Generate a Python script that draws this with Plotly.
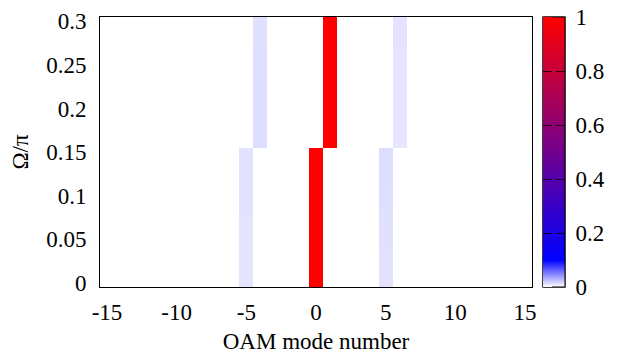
import plotly.graph_objects as go

# OAM mode numbers (x) and Omega/pi sample rows (y)
modes = [-15, -14, -13, -12, -11, -10, -9, -8, -7, -6, -5, -4, -3, -2, -1, 0,
         1, 2, 3, 4, 5, 6, 7, 8, 9, 10, 11, 12, 13, 14, 15]
omega_low = [0.00, 0.01, 0.02, 0.03, 0.04, 0.05, 0.06, 0.07,
             0.08, 0.09, 0.10, 0.11, 0.12, 0.13, 0.14, 0.15]
omega_high = [0.16, 0.17, 0.18, 0.19, 0.20, 0.21, 0.22, 0.23,
              0.24, 0.25, 0.26, 0.27, 0.28, 0.29, 0.30]

# lower block: peak at mode 0, side lobes at -5 and +5
low_peak_mode = 0
low_side_modes = [-5, 5]
low_peak = [1.0] * 16
low_side_left = [0.0105, 0.0105, 0.0106, 0.0106, 0.0106, 0.0107, 0.0107, 0.0107,
                 0.0108, 0.0108, 0.0108, 0.0109, 0.0109, 0.0109, 0.0110, 0.0110]
low_side_right = [0.0110, 0.0112, 0.0113, 0.0115, 0.0116, 0.0118, 0.0119, 0.0121,
                  0.0122, 0.0124, 0.0125, 0.0127, 0.0128, 0.0130, 0.0131, 0.0133]

# upper block: peak at mode 1, side lobes at -4 and +6
high_peak_mode = 1
high_side_modes = [-4, 6]
high_peak = [1.0] * 15
high_side_left = [0.0135, 0.0134, 0.0133, 0.0132, 0.0131, 0.0130, 0.0129, 0.0128,
                  0.0127, 0.0126, 0.0125, 0.0124, 0.0123, 0.0122, 0.0121]
high_side_right = [0.0100, 0.0101, 0.0101, 0.0102, 0.0103, 0.0103, 0.0104, 0.0105,
                   0.0105, 0.0106, 0.0107, 0.0107, 0.0108, 0.0109, 0.0110]

x_ticks = [-15, -10, -5, 0, 5, 10, 15]
x_ticktext = ["-15", "-10", "-5", "0", "5", "10", "15"]
y_ticks = [0, 0.05, 0.1, 0.15, 0.2, 0.25, 0.3]
y_ticktext = ["0", "0.05", "0.1", "0.15", "0.2", "0.25", "0.3"]
cb_ticks = [0, 0.2, 0.4, 0.6, 0.8, 1]
cb_ticktext = ["0", "0.2", "0.4", "0.6", "0.8", "1"]
cb_dash_ticks = [0.2, 0.4, 0.6, 0.8]

omega = omega_low + omega_high
z = []
for i in range(len(omega_low)):
    row = [0.0] * len(modes)
    row[modes.index(low_peak_mode)] = low_peak[i]
    row[modes.index(low_side_modes[0])] = low_side_left[i]
    row[modes.index(low_side_modes[1])] = low_side_right[i]
    z.append(row)
for i in range(len(omega_high)):
    row = [0.0] * len(modes)
    row[modes.index(high_peak_mode)] = high_peak[i]
    row[modes.index(high_side_modes[0])] = high_side_left[i]
    row[modes.index(high_side_modes[1])] = high_side_right[i]
    z.append(row)

cscale = [[0, "#ffffff"], [0.1, "#0000ff"], [1, "#ff0000"]]
FONT = "Liberation Serif"
FS = 23
CB_X = 1.0245

fig = go.Figure()
# main heatmap; its colour bar carries the tick labels
fig.add_trace(go.Heatmap(
    x=modes, y=omega, z=z, zmin=0, zmax=1, colorscale=cscale,
    colorbar=dict(
        x=CB_X, xanchor="left", xpad=0, y=0.5, yanchor="middle", ypad=0,
        len=1, lenmode="fraction", thickness=22,
        outlinecolor="black", outlinewidth=1,
        tickvals=cb_ticks, ticktext=cb_ticktext,
        ticks="outside", ticklen=6, tickcolor="rgba(0,0,0,0)",
        ticklabeloverflow="allow",
        tickfont=dict(family=FONT, size=FS, color="black"),
    ),
    hoverinfo="skip",
))
# right-hand dashes of the colour bar ticks
fig.add_trace(go.Scatter(
    x=[None, None], y=[None, None], mode="markers",
    marker=dict(color=[0, 1], cmin=0, cmax=1, colorscale=cscale, showscale=True,
                colorbar=dict(
                    x=CB_X, xanchor="left", xpad=0, y=0.5, yanchor="middle", ypad=0,
                    len=1, lenmode="fraction", thickness=22,
                    outlinecolor="black", outlinewidth=1,
                    tickvals=cb_dash_ticks, ticks="inside", ticklen=9,
                    tickcolor="rgba(0,0,0,0.8)", tickwidth=1,
                    showticklabels=False,
                )),
    showlegend=False, hoverinfo="skip",
))
# left-hand dashes of the colour bar ticks
fig.add_trace(go.Scatter(
    x=[None, None], y=[None, None], mode="markers",
    marker=dict(color=[0, 1], cmin=0, cmax=1, colorscale=cscale, showscale=True,
                colorbar=dict(
                    x=CB_X, xanchor="left", xpad=0, y=0.5, yanchor="middle", ypad=0,
                    len=1, lenmode="fraction", thickness=9,
                    outlinewidth=0,
                    tickvals=cb_dash_ticks, ticks="inside", ticklen=9,
                    tickcolor="rgba(0,0,0,0.8)", tickwidth=1,
                    showticklabels=False,
                )),
    showlegend=False, hoverinfo="skip",
))

# the page puts the figure 8 px in from the top-left corner; margins allow for it
fig.update_layout(
    width=622, height=356,
    margin=dict(l=92, r=98, t=9, b=77),
    paper_bgcolor="white", plot_bgcolor="white",
    font=dict(family=FONT, size=FS, color="black"),
    showlegend=False,
)
fig.update_xaxes(
    range=[-15.5, 15.5], tickvals=x_ticks, ticktext=x_ticktext, ticks="",
    showgrid=False, zeroline=False, automargin=False,
    showline=True, linecolor="black", linewidth=1, mirror=True,
    ticklabelstandoff=4,
    title=dict(text="OAM mode number", font=dict(family=FONT, size=FS), standoff=9),
)
fig.update_yaxes(
    range=[-0.005, 0.305], tickvals=y_ticks, ticktext=y_ticktext, ticks="",
    showgrid=False, zeroline=False, automargin=False,
    showline=True, linecolor="black", linewidth=1, mirror=True,
    ticklabelstandoff=8,
    title=dict(text="Ω/π", font=dict(family=FONT, size=FS), standoff=22),
)

fig.write_html("out.html")
